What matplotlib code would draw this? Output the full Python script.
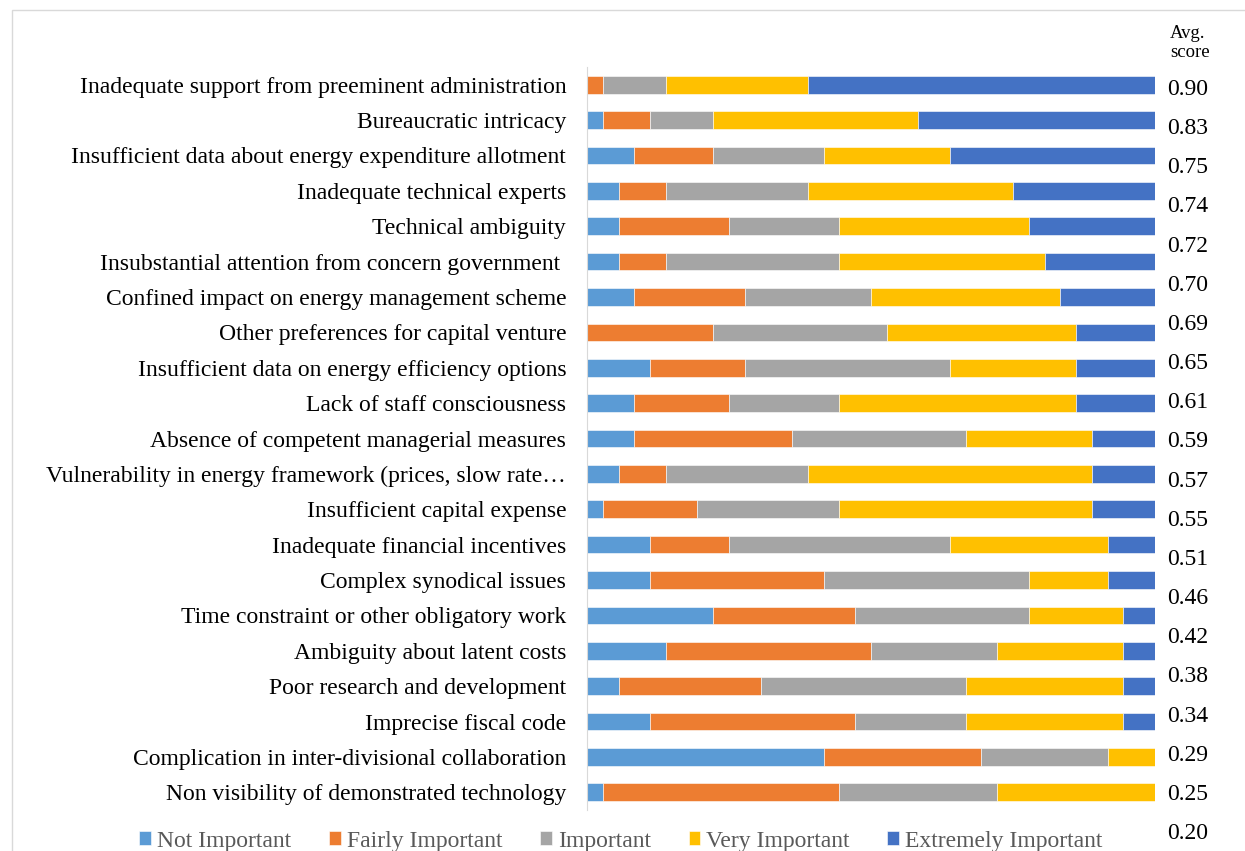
import matplotlib
matplotlib.use("Agg")
import matplotlib.pyplot as plt
from matplotlib.patches import Rectangle

plt.rcParams['font.family'] = ['Liberation Serif', 'DejaVu Serif']

barriers = [
    "Inadequate support from preeminent administration",
    "Bureaucratic intricacy",
    "Insufficient data about energy expenditure allotment",
    "Inadequate technical experts",
    "Technical ambiguity",
    "Insubstantial attention from concern government ",
    "Confined impact on energy management scheme",
    "Other preferences for capital venture",
    "Insufficient data on energy efficiency options",
    "Lack of staff consciousness",
    "Absence of competent managerial measures",
    "Vulnerability in energy framework (prices, slow rate\u2026",
    "Insufficient capital expense",
    "Inadequate financial incentives",
    "Complex synodical issues",
    "Time constraint or other obligatory work",
    "Ambiguity about latent costs",
    "Poor research and development",
    "Imprecise fiscal code",
    "Complication in inter-divisional collaboration",
    "Non visibility of demonstrated technology",
]

# responses per barrier (36 respondents)
not_important = [0, 1, 3, 2, 2, 2, 3, 0, 4, 3, 3, 2, 1, 4, 4, 8, 5, 2, 4, 15, 1]
fairly_important = [1, 3, 5, 3, 7, 3, 7, 8, 6, 6, 10, 3, 6, 5, 11, 9, 13, 9, 13, 10, 15]
important = [4, 4, 7, 9, 7, 11, 8, 11, 13, 7, 11, 9, 9, 14, 13, 11, 8, 13, 7, 8, 10]
very_important = [9, 13, 8, 13, 12, 13, 12, 12, 8, 15, 8, 18, 16, 10, 5, 6, 8, 10, 10, 3, 10]
extremely_important = [22, 15, 13, 9, 8, 7, 6, 5, 5, 5, 4, 4, 4, 3, 3, 2, 2, 2, 2, 0, 0]

avg_scores = ["0.90", "0.83", "0.75", "0.74", "0.72", "0.70", "0.69", "0.65", "0.61", "0.59",
              "0.57", "0.55", "0.51", "0.46", "0.42", "0.38", "0.34", "0.29", "0.25", "0.20"]

series = [
    ("Not Important", not_important, "#5B9BD5"),
    ("Fairly Important", fairly_important, "#ED7D31"),
    ("Important", important, "#A5A5A5"),
    ("Very Important", very_important, "#FFC000"),
    ("Extremely Important", extremely_important, "#4472C4"),
]

W, H = 1245, 851
fig = plt.figure(figsize=(W / 100, H / 100), dpi=100)

# chart border
fig.patches.append(Rectangle((12 / W, -0.1), 1.1, 1 - 10 / H + 0.1, transform=fig.transFigure,
                             fill=False, edgecolor="#D9D9D9", linewidth=1))

ax = fig.add_axes([587 / W, 1 - 810 / H, (1155 - 587) / W, (810 - 67) / H])
ypos = list(range(len(barriers)))
left = [0] * len(barriers)
for name, vals, col in series:
    ax.barh(ypos, vals, left=left, height=0.5, color=col, label=name,
            edgecolor="white", linewidth=0.4)
    left = [a + b for a, b in zip(left, vals)]

ax.set_xlim(0, 36)
ax.set_ylim(len(barriers) - 0.5, -0.5)
ax.set_yticks(ypos)
ax.set_yticklabels(barriers, fontsize=17)
ax.tick_params(axis="y", length=0, pad=15)
ax.set_xticks([])
for s in ["top", "right", "bottom"]:
    ax.spines[s].set_visible(False)
ax.spines["left"].set_color("#D9D9D9")

# avg score column
ax2 = fig.add_axes([1155 / W, 0, 5 / W, 1 - 67 / H])
ax2.set_ylim(19.51, -0.511)
ax2.set_xticks([])
ax2.yaxis.tick_right()
ax2.set_yticks(range(len(avg_scores)))
ax2.set_yticklabels(avg_scores, fontsize=17)
ax2.tick_params(axis="y", length=0, pad=5)
for s in ax2.spines.values():
    s.set_visible(False)
ax2.patch.set_alpha(0)
fig.text(1170 / W, 1 - 43 / H, "Avg.\nscore", fontsize=13.5, ha="left", va="center",
         linespacing=1.15)

leg = fig.legend(loc="center", bbox_to_anchor=(621 / W, 1 - 841 / H), ncol=5, frameon=False,
                 fontsize=17, handlelength=0.5, handleheight=0.5, handletextpad=0.25,
                 columnspacing=1.6)
for t in leg.get_texts():
    t.set_color("#595959")

fig.savefig("out.png", dpi=100)
